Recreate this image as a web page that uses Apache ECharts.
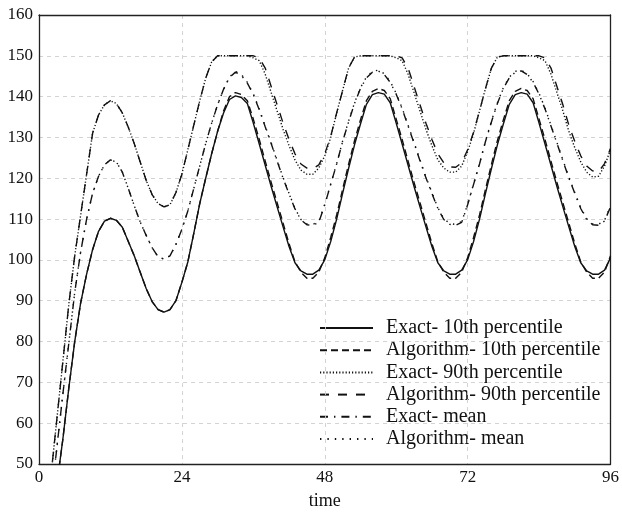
<!DOCTYPE html>
<html>
<head>
<meta charset="utf-8">
<script src="https://cdn.jsdelivr.net/npm/echarts@6/dist/echarts.min.js"></script>
<style>
html,body{margin:0;padding:0;background:#fff;overflow:hidden;}
#chart{width:622px;height:515px;}
</style>
</head>
<body>
<div id="chart"></div>
<script>
// sampling times (hours)
var hours = [];
for (var h = 0; h <= 96; h++) hours.push(h);

var xTicks = [0, 24, 48, 72, 96];
var yTicks = [50, 60, 70, 80, 90, 100, 110, 120, 130, 140, 150, 160];

var seriesNames = [
  'Exact- 10th percentile',
  'Algorithm- 10th percentile',
  'Exact- 90th percentile',
  'Algorithm- 90th percentile',
  'Exact- mean',
  'Algorithm- mean'
];

var exact10 = [
  9, 21, 33, 45, 56, 68.5, 80, 89.5, 96.5, 102.5,
  107, 109.5, 110.2, 109.7, 108, 104.5, 101, 97, 93, 89.8,
  87.8, 87.2, 87.8, 90, 94.5, 99.5, 106.5, 113.8, 120, 126,
  131.5, 136, 139.3, 140.2, 139.8, 138.3, 133.5, 128.4, 123.2, 118,
  113, 108.1, 103.3, 99.3, 97.3, 96.5, 96.5, 97.5, 100, 104.5,
  110, 116.3, 122.4, 128.2, 133.3, 138.1, 140.5, 141, 140.6, 138.5,
  133.5, 128.4, 123.2, 118, 113, 108.1, 103.3, 99.3, 97.3, 96.5,
  96.5, 97.5, 100, 104.5, 110, 116.3, 122.4, 128.2, 133.3, 138.1,
  140.5, 141, 140.6, 138.5, 133.5, 128.4, 123.2, 118, 113, 108.1,
  103.3, 99.3, 97.3, 96.5, 96.5, 97.5, 100.5
];

var algo10 = [
  9, 21, 33, 45, 56, 68.5, 80, 89.5, 96.5, 102.5,
  107, 109.5, 110.2, 109.7, 108, 104.5, 101, 97, 93, 89.8,
  87.8, 87.2, 87.8, 90, 94.5, 99.5, 106.5, 113.8, 120, 126,
  131.5, 136.5, 140, 141, 140.5, 139, 134.5, 129.5, 124.2, 119,
  114, 109, 104, 99.5, 97, 95.5, 95.5, 97, 100.5, 105.5,
  111, 117.3, 123.4, 129.2, 134.3, 139, 141.3, 142, 141.5, 139.5,
  134.5, 129.5, 124.2, 119, 114, 109, 104, 99.5, 97, 95.5,
  95.5, 97, 100.5, 105.5, 111, 117.3, 123.4, 129.2, 134.3, 139,
  141.3, 142, 141.5, 139.5, 134.5, 129.5, 124.2, 119, 114, 109,
  104, 99.5, 97, 95.5, 95.5, 97, 101
];

var exact90 = [
  20, 34, 47, 61, 75, 89, 101, 111, 121, 131,
  135.5, 138, 139, 138.3, 136, 132.5, 128.5, 124, 119.5, 116,
  113.8, 113, 113.5, 116.5, 121, 127, 133, 139, 144.5, 148.5,
  150, 150, 150, 150, 150, 150, 149.5, 148.8, 145.5, 141,
  136.5, 132, 128, 124.5, 122, 121, 121, 122.5, 125.5, 130,
  136, 141.5, 147, 149.7, 150, 150, 150, 150, 150, 150,
  149.5, 148.8, 145.5, 141, 136.5, 132, 128, 124.5, 122.5, 121.5,
  121.5, 123, 126.5, 131, 136.5, 142, 147, 149.7, 150, 150,
  150, 150, 150, 150, 149.5, 148.8, 145.5, 141, 136.5, 131.5,
  127.5, 124, 121.5, 120.3, 120.5, 123, 127
];

var algo90 = [
  20, 34, 47, 61, 75, 89, 101, 111, 121, 131,
  135.5, 138, 139, 138.3, 136, 132.5, 128.5, 124, 119.5, 116,
  113.8, 113, 113.5, 116.5, 121, 127, 133, 139, 144.5, 148.5,
  150, 150, 150, 150, 150, 150, 150, 149.5, 147, 142.5,
  138, 133.5, 129.5, 126, 123.5, 122.5, 122.3, 123.3, 126, 130.3,
  136, 141.5, 147, 149.7, 150, 150, 150, 150, 150, 150,
  150, 149.5, 147, 142.5, 138, 133.5, 129.5, 126, 123.8, 122.8,
  122.7, 123.8, 127, 131.3, 136.5, 142, 147, 149.7, 150, 150,
  150, 150, 150, 150, 150, 149.5, 147, 142.5, 138, 133,
  129, 125.5, 123, 121.8, 121.6, 123.6, 127.3
];

var exactMean = [
  15, 28, 41, 54, 67, 79.5, 92, 102, 110, 116.3,
  120.5, 123.3, 124.5, 124, 121.5, 117.5, 113.3, 109.3, 106, 103,
  100.8, 100.2, 101, 103.8, 107.5, 112, 117.5, 123, 128.5, 133.5,
  138, 141.8, 144.7, 146, 145.2, 143.3, 140.5, 136.8, 132.6, 128.5,
  124.2, 120, 116.2, 112.5, 109.8, 108.6, 108.5, 109.2, 113.5, 118.5,
  123.5, 129, 133.8, 138.3, 142, 144.6, 146, 146.3, 145.4, 143.5,
  140.6, 137, 132.8, 128.6, 124.3, 120.1, 116.3, 112.6, 109.9, 108.7,
  108.5, 109.2, 113.5, 118.5, 123.5, 129, 133.8, 138.3, 142, 144.6,
  146, 146.3, 145.4, 143.5, 140.6, 137, 132.8, 128.6, 124.3, 120.1,
  116.3, 112.6, 109.9, 108.6, 108.5, 109.5, 113
];

var algoMean = [
  15, 28, 41, 54, 67, 79.5, 92, 102, 110, 116.3,
  120.5, 123.3, 124.5, 124, 121.5, 117.5, 113.3, 109.3, 106, 103,
  100.8, 100.2, 101, 103.8, 107.5, 112, 117.5, 123, 128.5, 133.5,
  138, 141.8, 144.8, 146.2, 145.4, 143.5, 140.7, 137, 132.8, 128.7,
  124.4, 120.2, 116.3, 112.6, 109.9, 108.8, 108.7, 109.4, 113.6, 118.6,
  123.6, 129.1, 134, 138.5, 142.2, 144.8, 146.2, 146.5, 145.6, 143.7,
  140.8, 137.2, 133, 128.8, 124.5, 120.3, 116.5, 112.8, 110.1, 108.9,
  108.7, 109.4, 113.6, 118.6, 123.6, 129.1, 134, 138.5, 142.2, 144.8,
  146.2, 146.5, 145.6, 143.7, 140.8, 137.2, 133, 128.8, 124.5, 120.3,
  116.5, 112.8, 110.1, 108.8, 108.7, 109.7, 113.2
];

var allValues = [exact10, algo10, exact90, algo90, exactMean, algoMean];
var dashes = [
  'solid',
  [7, 4],
  [1.2, 2],
  [9, 9],
  [8, 6, 1.4, 6],
  [1.4, 6]
];

function pairs(vals) {
  return hours.map(function (t, i) { return [t, vals[i]]; });
}

var series = allValues.map(function (vals, k) {
  return {
    name: seriesNames[k],
    type: 'line',
    data: pairs(vals),
    showSymbol: false,
    symbol: 'none',
    clip: true,
    smooth: false,
    lineStyle: { color: '#111', width: 1.4, type: dashes[k] },
    itemStyle: { color: '#111' },
    z: 10 - k
  };
});

var serif = 'Liberation Serif';
var gridLine = { show: true, lineStyle: { color: '#cfcfcf', width: 0.9, type: [4, 4] } };
var frame = { show: true, onZero: false, lineStyle: { color: '#222', width: 1.3 } };

var chart = echarts.init(document.getElementById('chart'), null, { renderer: 'canvas' });
chart.setOption({
  animation: false,
  backgroundColor: '#fff',
  grid: { left: 39, right: 9, top: 15, bottom: 48 },
  legend: {
    orient: 'vertical',
    left: 314,
    top: 312,
    itemWidth: 53,
    itemHeight: 14,
    itemGap: 0.2,
    data: seriesNames,
    itemStyle: { opacity: 0 },
    textStyle: { fontFamily: serif, fontSize: 20, color: '#111', lineHeight: 22, padding: [0, 0, 0, 8] }
  },
  xAxis: [{
    type: 'value',
    position: 'bottom',
    min: xTicks[0],
    max: xTicks[xTicks.length - 1],
    interval: 24,
    name: 'time',
    nameLocation: 'middle',
    nameGap: 28,
    nameTextStyle: { fontFamily: serif, fontSize: 18, color: '#111' },
    axisLine: frame,
    axisTick: { show: false },
    axisLabel: { fontFamily: serif, fontSize: 17, color: '#111', margin: 5 },
    splitLine: gridLine,
    z: 5
  }, {
    type: 'value',
    position: 'top',
    min: xTicks[0],
    max: xTicks[xTicks.length - 1],
    interval: 24,
    axisLine: frame,
    axisTick: { show: false },
    axisLabel: { show: false },
    splitLine: { show: false },
    z: 5
  }],
  yAxis: [{
    type: 'value',
    position: 'left',
    min: yTicks[0],
    max: yTicks[yTicks.length - 1],
    interval: 10,
    axisLine: frame,
    axisTick: { show: false },
    axisLabel: { fontFamily: serif, fontSize: 17, color: '#111', margin: 6 },
    splitLine: gridLine,
    z: 5
  }, {
    type: 'value',
    position: 'right',
    min: yTicks[0],
    max: yTicks[yTicks.length - 1],
    interval: 10,
    axisLine: frame,
    axisTick: { show: false },
    axisLabel: { show: false },
    splitLine: { show: false },
    z: 5
  }],
  series: series
});
</script>
</body>
</html>
